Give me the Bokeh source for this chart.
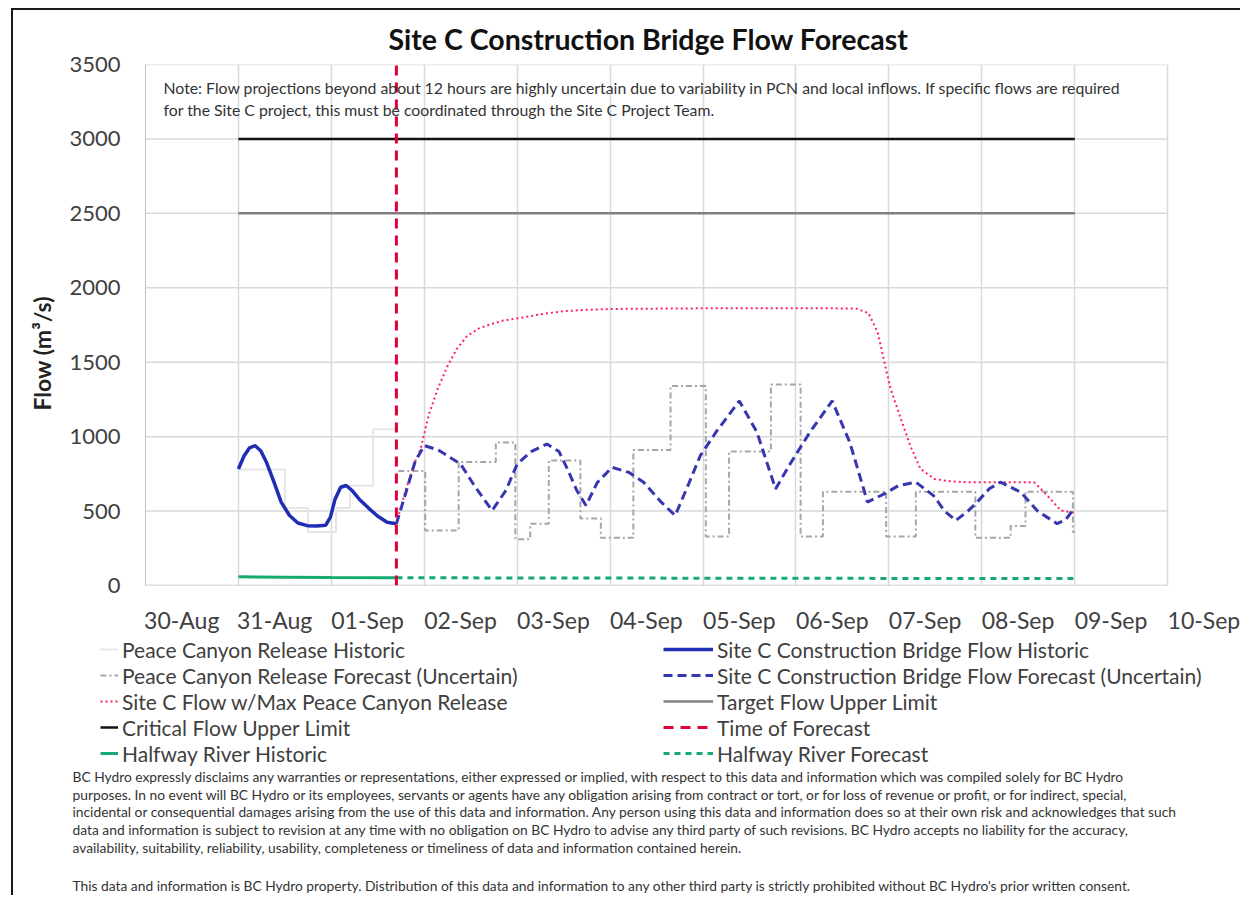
from bokeh.plotting import figure
from bokeh.layouts import column
from bokeh.models import FixedTicker, Legend, LegendItem, Label, Title
from bokeh.embed import file_html
from bokeh.resources import INLINE

# ---------------- data ----------------
day_ticks = list(range(12))  # days since 30-Aug 00:00
tick_labels = ["30-Aug", "31-Aug", "01-Sep", "02-Sep", "03-Sep", "04-Sep",
               "05-Sep", "06-Sep", "07-Sep", "08-Sep", "09-Sep", "10-Sep"]
y_ticks = [0, 500, 1000, 1500, 2000, 2500, 3000, 3500]

forecast_time = 2.70

# Site C Construction Bridge Flow Historic
sitec_hist_x = [1.00, 1.06, 1.12, 1.18, 1.24, 1.30, 1.38, 1.46, 1.55, 1.64, 1.74, 1.84,
                1.94, 1.99, 2.04, 2.10, 2.16, 2.22, 2.30, 2.40, 2.50, 2.60, 2.70]
sitec_hist_y = [783, 870, 925, 939, 905, 830, 700, 560, 470, 420, 402, 400,
                405, 460, 580, 660, 672, 640, 580, 520, 465, 425, 415]

# Site C Construction Bridge Flow Forecast (Uncertain)
sitec_fc_x = [2.70, 2.80, 2.90, 3.00, 3.15, 3.39, 3.55, 3.73, 3.88, 4.00, 4.15, 4.32,
              4.45, 4.54, 4.64, 4.74, 4.86, 5.02, 5.20, 5.36, 5.55, 5.70, 5.85, 5.97,
              6.15, 6.39, 6.58, 6.78, 6.95, 7.15, 7.39, 7.58, 7.77, 7.95, 8.10, 8.29,
              8.48, 8.60, 8.72, 8.85, 8.95, 9.08, 9.20, 9.42, 9.60, 9.81, 9.90, 9.99]
sitec_fc_y = [415, 620, 830, 940, 910, 817, 660, 504, 640, 817, 900, 950,
              900, 783, 640, 537, 690, 794, 760, 694, 560, 470, 690, 872,
              1040, 1240, 1030, 649, 830, 1030, 1240, 960, 560, 616, 670, 694,
              604, 500, 437, 500, 560, 650, 694, 627, 500, 415, 440, 515]

# Site C Flow w/Max Peace Canyon Release
sitec_max_x = [2.70, 2.80, 2.90, 2.96, 3.05, 3.15, 3.25, 3.35, 3.46, 3.58, 3.71, 3.85,
               4.04, 4.25, 4.50, 4.75, 5.04, 5.50, 6.00, 6.50, 7.00, 7.40, 7.65, 7.78,
               7.88, 7.97, 8.02, 8.13, 8.23, 8.34, 8.49, 8.65, 8.84, 9.20, 9.56, 9.67,
               9.85, 9.99]
sitec_max_y = [415, 640, 830, 917, 1150, 1330, 1474, 1590, 1675, 1725, 1754, 1780,
               1798, 1822, 1843, 1852, 1858, 1860, 1862, 1862, 1862, 1862, 1860, 1830,
               1700, 1450, 1318, 1118, 939, 783, 716, 700, 694, 694, 694, 627,
               504, 490]

# Peace Canyon Release Historic (step)
pc_hist_x = [1.00, 1.50, 1.75, 2.05, 2.20, 2.45, 2.70]
pc_hist_y = [780, 520, 360, 520, 670, 1050, 1050]

# Peace Canyon Release Forecast (Uncertain) (step)
pc_fc_x = [2.72, 3.01, 3.37, 3.77, 3.98, 4.14, 4.34, 4.68, 4.90, 5.25, 5.65, 6.03,
           6.28, 6.73, 7.05, 7.29, 7.97, 8.29, 8.93, 9.31, 9.47, 9.98, 10.00]
pc_fc_y = [770, 370, 830, 960, 310, 415, 840, 450, 320, 910, 1340, 330,
           900, 1350, 330, 630, 330, 630, 320, 400, 630, 360, 360]

# Halfway River
halfway_hist_x = [1.00, 1.50, 2.00, 2.70]
halfway_hist_y = [58, 56, 53, 52]
halfway_fc_x = [2.70, 5.00, 7.50, 10.00]
halfway_fc_y = [52, 50, 48, 47]

# Limits
limit_x = [1.00, 10.00]
target_limit = 2500
critical_limit = 3000

title_text = "Site C Construction Bridge Flow Forecast"
y_label = "Flow (m³/s)"
note_lines = [
    "Note:  Flow projections beyond about 12 hours are highly uncertain due to variability in PCN and local inflows.  If specific flows are required",
    "for the Site C project, this must be coordinated through the Site C Project Team.",
]
footer_lines = [
    "BC Hydro expressly disclaims any warranties or representations, either expressed or implied, with respect to this data and information which was compiled solely for BC Hydro",
    "purposes.  In no event will BC Hydro or its employees, servants or agents have any obligation arising from contract or tort, or for loss of revenue or profit, or for indirect, special,",
    "incidental or consequential damages arising from the use of this data and information.  Any person using this data and information does so at their own risk and acknowledges that such",
    "data and information is subject to revision at any time with no obligation on BC Hydro to advise any third party of such revisions.  BC Hydro accepts no liability for the accuracy,",
    "availability, suitability, reliability, usability, completeness or timeliness of data and information contained herein.",
    "This data and information is BC Hydro property.  Distribution of this data and information to any other third party is strictly prohibited without BC Hydro's prior written consent.",
]

# ---------------- layout constants (page pixels) ----------------
FONT = "Lato"
TXT = "#404040"
OX, OY = 13, 10             # page offset of the figures (margin + border)
W = 1227
H1 = 626
H2 = 259
X_END = 11.45               # a bit past 10-Sep so its label can be drawn
FRAME_L, FRAME_T, FRAME_B = 145, 64, 587
FRAME_R = 1209
LABEL_SHIFT = 0.39          # tick labels start at the day line

styles = {
    "pc_hist": dict(line_color="#e6e6e6", line_width=2),
    "pc_fc": dict(line_color="#a6a6a6", line_width=2, line_dash="6 3 2 3"),
    "target": dict(line_color="#7f7f7f", line_width=2.5),
    "critical": dict(line_color="#111111", line_width=2.5),
    "max": dict(line_color="#ff2060", line_width=2, line_dash="2 3"),
    "hist": dict(line_color="#1f2db5", line_width=3.5),
    "fc": dict(line_color="#3636b0", line_width=3, line_dash="9 5"),
    "hw_hist": dict(line_color="#14aa70", line_width=3),
    "hw_fc": dict(line_color="#14aa70", line_width=3, line_dash="6 5"),
    "tof": dict(line_color="#e0003a", line_width=3, line_dash="10 7"),
}

# ---------------- main figure ----------------
p = figure(width=W, height=H1, x_range=(day_ticks[0], X_END), y_range=(y_ticks[0], y_ticks[-1]),
           output_backend="svg", toolbar_location=None,
           min_border_left=FRAME_L - OX, min_border_right=W - (FRAME_R - OX),
           min_border_top=FRAME_T - OY, min_border_bottom=H1 - (FRAME_B - OY),
           background_fill_color="white", border_fill_color="white")
p.frame_align = False
p.outline_line_color = None

p.title.text = title_text
p.title.align = "left"
p.title.offset = 388 - FRAME_L
p.title.text_font = FONT
p.title.text_font_size = "28.5px"
p.title.text_font_style = "bold"
p.title.text_color = "#111111"
p.title.standoff = 17

label_ticks = [t + LABEL_SHIFT for t in day_ticks]
p.xaxis.ticker = FixedTicker(ticks=label_ticks)
p.xaxis.major_label_overrides = {t: l for t, l in zip(label_ticks, tick_labels)}
p.xaxis.major_label_text_font = FONT
p.xaxis.major_label_text_font_size = "23px"
p.xaxis.major_label_text_color = TXT
p.xaxis.major_label_standoff = 20
p.xaxis.axis_line_color = None
p.xaxis.major_tick_line_color = None
p.xaxis.major_tick_out = 0
p.xaxis.major_tick_in = 0
p.xaxis.minor_tick_line_color = None

p.yaxis.ticker = FixedTicker(ticks=y_ticks)
p.yaxis.major_label_text_font = FONT
p.yaxis.major_label_text_font_size = "22px"
p.yaxis.major_label_text_color = TXT
p.yaxis.major_label_standoff = 19
p.yaxis.axis_line_color = "#bfbfbf"
p.yaxis.major_tick_line_color = None
p.yaxis.minor_tick_line_color = None

p.add_layout(Title(text=y_label, align="left", offset=175, standoff=21,
                   text_font=FONT, text_font_size="23px", text_font_style="bold",
                   text_color="#222222"), "left")

# grid: vertical lines at each day, horizontal lines only across the 11-day span
p.xgrid.ticker = FixedTicker(ticks=day_ticks)
p.xgrid.grid_line_color = "#d9d9d9"
p.xgrid.grid_line_width = 1.5
p.ygrid.grid_line_color = None
n_y = len(y_ticks)
p.segment(x0=[day_ticks[0]] * n_y, x1=[day_ticks[-1]] * n_y, y0=y_ticks, y1=y_ticks,
          line_color=["#bfbfbf"] + ["#d9d9d9"] * (n_y - 1), line_width=1.5)

p.step(pc_hist_x, pc_hist_y, mode="after", **styles["pc_hist"])
p.step(pc_fc_x, pc_fc_y, mode="after", **styles["pc_fc"])
p.line(limit_x, [target_limit] * len(limit_x), **styles["target"])
p.line(limit_x, [critical_limit] * len(limit_x), **styles["critical"])
p.line(sitec_max_x, sitec_max_y, **styles["max"])
p.line(sitec_hist_x, sitec_hist_y, **styles["hist"])
p.line(sitec_fc_x, sitec_fc_y, **styles["fc"])
p.line(halfway_hist_x, halfway_hist_y, **styles["hw_hist"])
p.line(halfway_fc_x, halfway_fc_y, **styles["hw_fc"])
p.line([forecast_time, forecast_time], [y_ticks[0], y_ticks[-1]], **styles["tof"])

for txt, py in zip(note_lines, [89, 111]):
    p.add_layout(Label(x=163 - FRAME_L, y=FRAME_B - py, x_units="screen", y_units="screen",
                       text=txt, text_font=FONT, text_font_size="15.8px", text_color="#333333",
                       text_baseline="middle", text_align="left"))

# ---------------- legend + disclaimer figure ----------------
p2 = figure(width=W, height=H2, x_range=(0, 1), y_range=(0, 1),
            output_backend="svg", toolbar_location=None,
            x_axis_type=None, y_axis_type=None, min_border=0,
            background_fill_color="white", border_fill_color="white")
p2.frame_align = False
p2.outline_line_color = None
p2.grid.visible = False

legend_left = [
    ("Peace Canyon Release Historic", "pc_hist"),
    ("Peace Canyon Release Forecast (Uncertain)", "pc_fc"),
    ("Site C Flow w/Max Peace Canyon Release", "max"),
    ("Critical Flow Upper Limit", "critical"),
    ("Halfway River Historic", "hw_hist"),
]
legend_right = [
    ("Site C Construction Bridge Flow Historic", "hist"),
    ("Site C Construction Bridge Flow Forecast (Uncertain)", "fc"),
    ("Target Flow Upper Limit", "target"),
    ("Time of Forecast", "tof"),
    ("Halfway River Forecast", "hw_fc"),
]
nan = float("nan")


def make_legend(entries, page_x, glyph_w):
    items = []
    for lab, key in entries:
        r = p2.line(x=[nan], y=[nan], **styles[key])
        items.append(LegendItem(label=lab, renderers=[r]))
    return Legend(items=items, orientation="vertical",
                  location=(page_x - OX, H2 - 129.5), padding=0, margin=0, spacing=1,
                  glyph_width=glyph_w, glyph_height=20, label_height=20,
                  label_standoff=4, label_text_font=FONT, label_text_font_size="21px",
                  label_text_color=TXT, border_line_color=None, background_fill_alpha=0)


p2.add_layout(make_legend(legend_left, 100, 18), "center")
p2.add_layout(make_legend(legend_right, 663, 50), "center")

P2_TOP = OY + H1
footer_page_y = [776, 794, 811, 829, 847, 885]
for txt, py in zip(footer_lines, footer_page_y):
    p2.add_layout(Label(x=72 - OX, y=P2_TOP + H2 - py, x_units="screen", y_units="screen",
                        text=txt, text_font=FONT, text_font_size="13.8px", text_color="#333333",
                        text_baseline="middle", text_align="left"))

layout = column(p, p2, spacing=0, margin=(8, 0, 0, 11),
                styles={"border-left": "2px solid #1a1a1a", "border-top": "2px solid #1a1a1a"})
open("out.html", "w").write(file_html(layout, INLINE))
